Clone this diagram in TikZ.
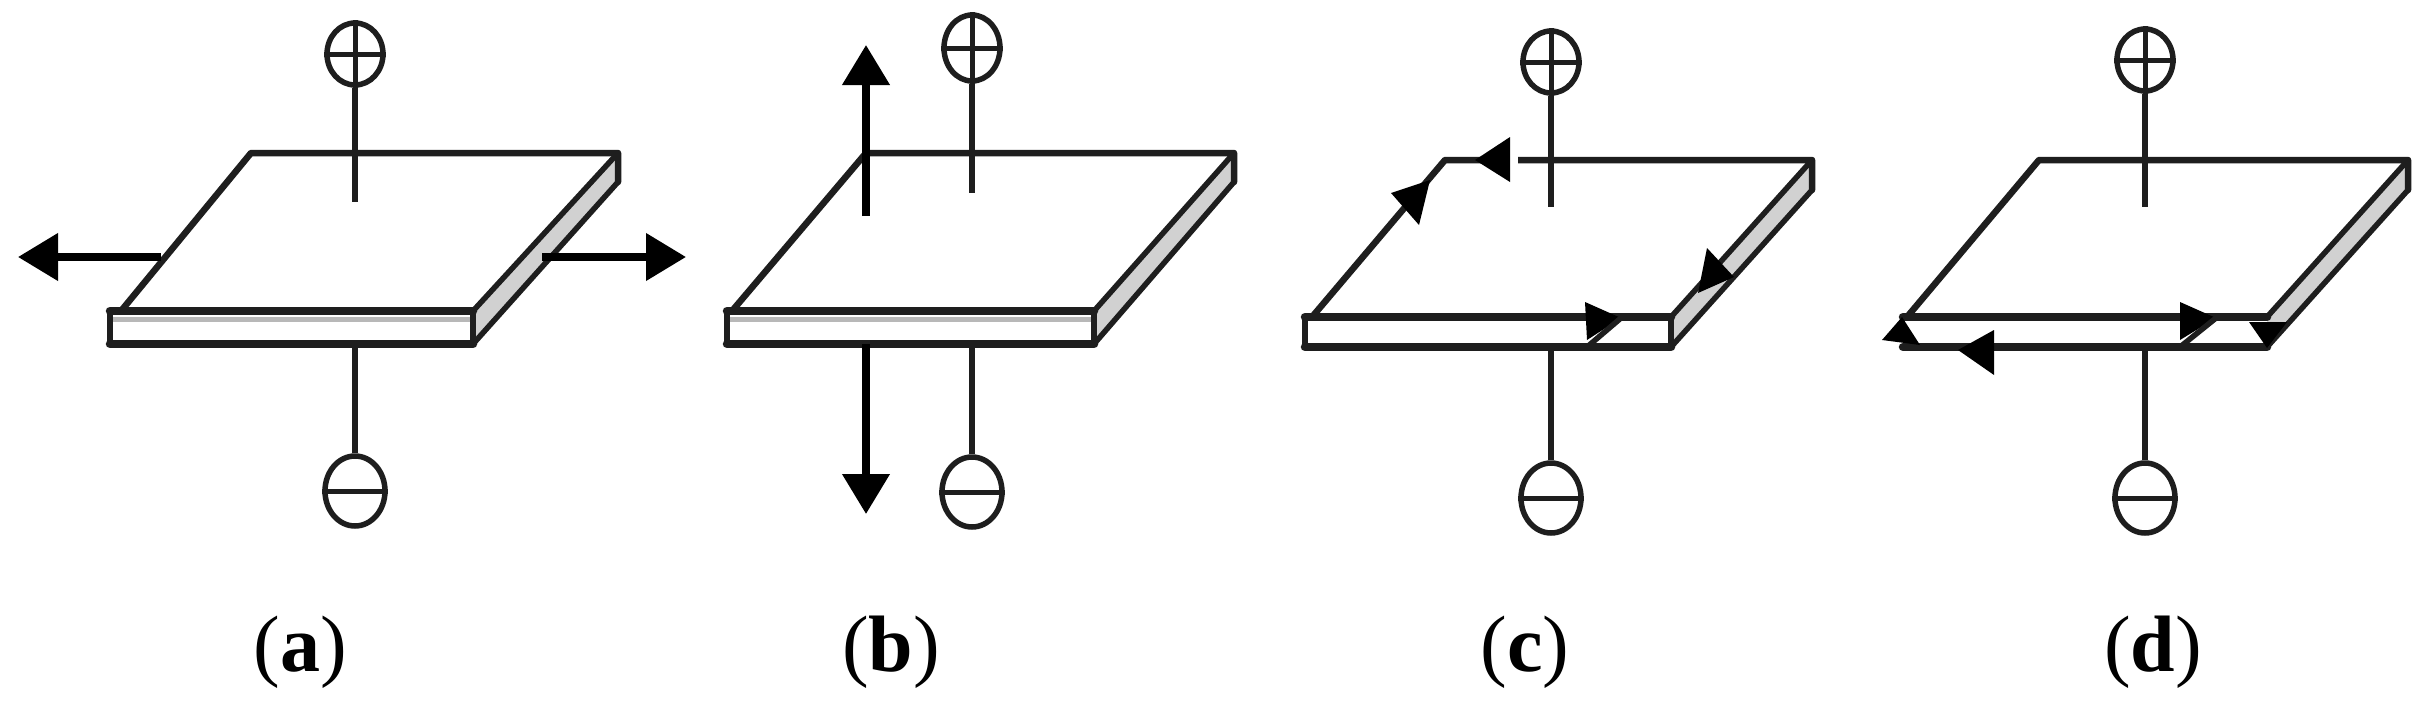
\documentclass[tikz,border=0pt]{standalone}
\usepackage{fontspec}
\setmainfont{Liberation Serif}
\usetikzlibrary{arrows.meta,shapes.geometric}
\definecolor{ink}{HTML}{1E1E1E}
\tikzset{
  edgethin/.style={draw=ink,line width=6.5pt,line cap=round,line join=round},
  sideline/.style={draw=ink,line width=5.5pt,line cap=round,line join=round},
  heavy/.style={draw=ink,line width=8.5pt,line cap=round},
  pole/.style={draw=ink,line width=6pt},
  crossbar/.style={draw=ink,line width=5pt},
  term/.style={ellipse,draw=ink,line width=5.5pt,inner sep=0pt,fill=white},
  flow/.style={draw=black,line width=7.5pt,-{Triangle[length=40pt,width=46pt]}},
  tipfill/.style={fill=black},
  panelcap/.style={font=\fontsize{80}{80}\selectfont,inner sep=0pt,text=black},
  sideface/.style={fill=black!18}
}
\newcommand{\capt}[1]{(\textbf{#1})}
\begin{document}
\begin{tikzpicture}[x=1pt,y=-1pt]
\useasboundingbox[fill=white] (0,0) rectangle (2427,712);
\foreach \n/\tl/\tr/\sl/\sr/\ls/\band/\yt/\ye/\yf/\yb/\px/\pcy/\mcy/\pend/\prx/\pry/\mrx/\mry/\lx/\lab in {
 a/251/618/110/473/11/28/153/182/311/344/355/54/491/202/28/31/30/35/300/a,
 b/866/1234/727/1094/5/28/153/182/311/344/972/48/492/193/28/33/30/35/891/b,
 c/1445/1812/1305/1671/7/0/160/190/317/347/1551/62/498/207/28/31/30/35/1525/c,
 d/2039/2408/1903/2267/4/0/160/190/317/347/2145/60/498/207/28/31/30/35/2153/d}
{
  % plate: side face, top face
  \fill[sideface] (\sr,\yf) -- (\tr,\yt) -- (\tr,\ye) -- (\sr,\yb) -- cycle;
  \path[edgethin] (\sl+\ls,\yf) -- (\tl,\yt) -- (\tr,\yt) -- (\tr,\ye);
  \path[sideline] (\tr,\ye) -- (\sr,\yb);
  \path[sideline] (\sr,\yf) -- (\tr,\yt);
  % front face
  \draw[black!\band,line width=5pt] (\sl,\yf+8) -- (\sr,\yf+8);
  \draw[heavy] (\sl,\yf) -- (\sr,\yf);
  \draw[heavy] (\sl,\yb) -- (\sr,\yb);
  % terminals
  \node[term,minimum width=2*\prx pt,minimum height=2*\pry pt] (p\n) at (\px,\pcy) {};
  \draw[crossbar] (p\n.north) -- (p\n.south) (p\n.west) -- (p\n.east);
  \node[term,minimum width=2*\mrx pt,minimum height=2*\mry pt] (m\n) at (\px,\mcy) {};
  \draw[crossbar] (m\n.west) -- (m\n.east);
  \coordinate (pe\n) at (\px,\pend);
  \coordinate (me\n) at (\px,\yb);
  \draw[pole] (p\n.south) -- (pe\n);
  \draw[pole] (m\n.north) -- (me\n);
  \node[panelcap] (l\n) at (\lx,652) {\capt{\lab}};
}
% slab end edges for a, b, c
\draw[sideline] (110,311) -- (110,344) (473,311) -- (473,344)
  (727,311) -- (727,344) (1094,311) -- (1094,344)
  (1305,317) -- (1305,347) (1671,317) -- (1671,347);
% (a) outward arrows
\coordinate (a1s) at (161,257); \coordinate (a1e) at (18,257);
\coordinate (a2s) at (542,257); \coordinate (a2e) at (686,257);
\draw[flow] (a1s) -- (a1e);
\draw[flow] (a2s) -- (a2e);
% (b) vertical arrows
\coordinate (b1s) at (866,216); \coordinate (b1e) at (866,45);
\coordinate (b2s) at (866,344); \coordinate (b2e) at (866,514);
\draw[flow] (b1s) -- (b1e);
\draw[flow] (b2s) -- (b2e);
% (c) loop arrows
\fill[white] (1510,150) rectangle (1518,170);
\fill[tipfill] (1475,160) -- (1510,137) -- (1510,182) -- cycle;
\fill[tipfill] (1391,193) -- (1430,180) -- (1419,225) -- cycle;
\fill[tipfill] (1707,248) -- (1734,277) -- (1698,293) -- cycle;
\fill[tipfill] (1585,302) -- (1621,318) -- (1587,340) -- cycle;
\draw[sideline] (1587,347) -- (1621,318);
% (d) arrows
\fill[tipfill] (2180,302) -- (2216,318) -- (2180,340) -- cycle;
\draw[sideline] (2180,347) -- (2216,318);
\fill[tipfill] (2249,322) -- (2287,322) -- (2267,348) -- cycle;
\fill[tipfill] (1994,330) -- (1958,350) -- (1994,375) -- cycle;
\fill[tipfill] (1882,340) -- (1902,317) -- (1920,345) -- cycle;
\end{tikzpicture}
\end{document}
